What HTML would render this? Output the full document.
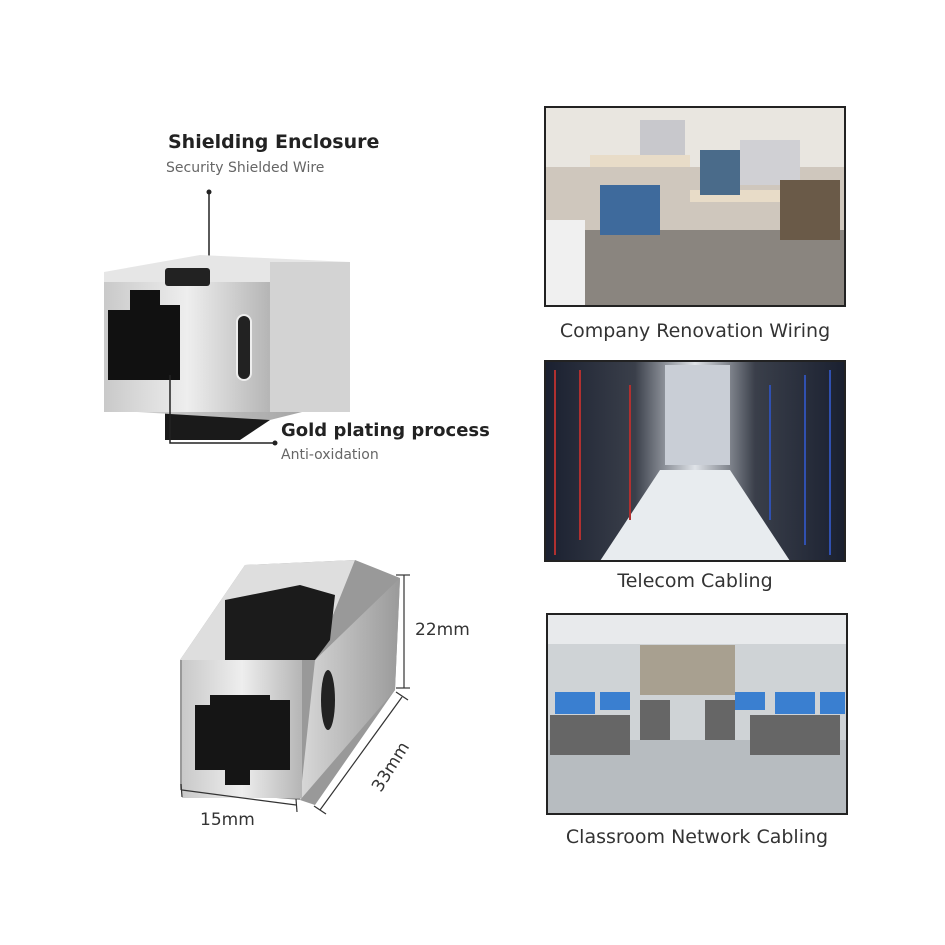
<!DOCTYPE html>
<html><head><meta charset="utf-8"><style>
body{margin:0;background:#fff;width:945px;height:945px;overflow:hidden;font-family:"DejaVu Sans","Liberation Sans",sans-serif;}
.t{position:absolute;white-space:nowrap;}
</style></head><body>
<svg width="945" height="945" style="position:absolute;left:0;top:0">
<defs>
<linearGradient id="m" x1="0" x2="1"><stop offset="0" stop-color="#c9c9c9"/><stop offset=".5" stop-color="#eeeeee"/><stop offset="1" stop-color="#b5b5b5"/></linearGradient>
<linearGradient id="m2" x1="0" x2="1"><stop offset="0" stop-color="#d8d8d8"/><stop offset="1" stop-color="#9a9a9a"/></linearGradient>
<linearGradient id="dc" x1="0" x2="1"><stop offset="0" stop-color="#1a2030"/><stop offset=".3" stop-color="#3a3f4a"/><stop offset=".5" stop-color="#dfe3e8"/><stop offset=".7" stop-color="#3a3f4a"/><stop offset="1" stop-color="#1a2030"/></linearGradient>
</defs>
<line x1="209" y1="192" x2="209" y2="262" stroke="#222" stroke-width="1.5"/><circle cx="209" cy="192" r="2.5" fill="#222"/>
<polygon points="165,395 270,395 270,420 240,440 165,440" fill="#1a1a1a"/>
<polygon points="104,280 270,280 350,262 350,400 270,420 104,410" fill="url(#m2)"/>
<polygon points="104,272 200,255 350,262 270,282 104,285" fill="#e6e6e6"/>
<rect x="104" y="282" width="166" height="130" fill="url(#m)"/>
<rect x="270" y="262" width="80" height="150" fill="#d3d3d3"/>
<rect x="165" y="268" width="45" height="18" rx="3" fill="#222"/>
<polygon points="108,310 130,310 130,290 160,290 160,305 180,305 180,380 108,380" fill="#111"/>
<rect x="237" y="315" width="14" height="65" rx="7" fill="#222" stroke="#eee" stroke-width="2"/>
<polyline points="170,375 170,443 275,443" fill="none" stroke="#222" stroke-width="1.5"/><circle cx="275" cy="443" r="2.5" fill="#222"/>
<polygon points="180,660 245,565 355,560 400,578 395,690 315,805 300,800 180,790" fill="#999"/>
<polygon points="180,660 245,565 355,560 315,660" fill="#dedede"/>
<polygon points="315,660 400,578 395,690 300,800" fill="url(#m2)"/>
<rect x="182" y="660" width="120" height="138" fill="url(#m)"/>
<polygon points="225,600 300,585 335,595 330,640 315,660 225,660" fill="#1b1b1b"/>
<polygon points="195,705 210,705 210,695 270,695 270,700 290,700 290,770 250,770 250,785 225,785 225,770 195,770" fill="#151515"/>
<ellipse cx="328" cy="700" rx="7" ry="30" fill="#222"/>
<g stroke="#333" stroke-width="1.2" fill="none">
<line x1="404" y1="575" x2="404" y2="688"/><line x1="396" y1="575" x2="410" y2="575"/><line x1="396" y1="688" x2="410" y2="688"/>
<line x1="402" y1="697" x2="320" y2="810"/><line x1="396" y1="692" x2="408" y2="700"/><line x1="314" y1="806" x2="326" y2="814"/>
<line x1="182" y1="790" x2="296" y2="805"/><line x1="181" y1="784" x2="182" y2="797"/><line x1="296" y1="799" x2="297" y2="812"/>
</g>
<rect x="545" y="107" width="300" height="199" fill="#cfc7bd"/>
<rect x="545" y="107" width="300" height="60" fill="#e9e6e0"/>
<rect x="545" y="230" width="300" height="76" fill="#8a857f"/>
<rect x="640" y="120" width="45" height="35" fill="#c8c8cc"/><rect x="740" y="140" width="60" height="45" fill="#d0d0d4"/>
<rect x="590" y="155" width="100" height="12" fill="#e8dcc8"/><rect x="690" y="190" width="100" height="12" fill="#e8dcc8"/>
<rect x="600" y="185" width="60" height="50" fill="#3e6a9c"/><rect x="700" y="150" width="40" height="45" fill="#4a6b8a"/>
<rect x="780" y="180" width="60" height="60" fill="#6a5a48"/><rect x="545" y="220" width="40" height="86" fill="#f0f0f0"/>
<rect x="545" y="107" width="300" height="199" fill="none" stroke="#222" stroke-width="2"/>
<rect x="545" y="361" width="300" height="200" fill="url(#dc)"/>
<polygon points="600,561 790,561 730,470 660,470" fill="#e8ecef"/>
<rect x="665" y="365" width="65" height="100" fill="#c9ced6"/>
<g stroke="#b03030" stroke-width="2"><line x1="555" y1="370" x2="555" y2="555"/><line x1="580" y1="370" x2="580" y2="540"/><line x1="630" y1="385" x2="630" y2="520"/></g>
<g stroke="#3050b0" stroke-width="2"><line x1="830" y1="370" x2="830" y2="555"/><line x1="805" y1="375" x2="805" y2="545"/><line x1="770" y1="385" x2="770" y2="520"/></g>
<rect x="545" y="361" width="300" height="200" fill="none" stroke="#222" stroke-width="2"/>
<rect x="547" y="614" width="300" height="200" fill="#cfd3d6"/>
<rect x="547" y="614" width="300" height="30" fill="#e8eaec"/>
<rect x="640" y="645" width="95" height="50" fill="#a8a090"/>
<polygon points="547,740 847,740 847,814 547,814" fill="#b7bcc0"/>
<g fill="#3a7fd0"><rect x="555" y="692" width="40" height="22"/><rect x="600" y="692" width="30" height="18"/><rect x="775" y="692" width="40" height="22"/><rect x="820" y="692" width="25" height="22"/><rect x="735" y="692" width="30" height="18"/></g>
<g fill="#666"><rect x="550" y="715" width="80" height="40"/><rect x="750" y="715" width="90" height="40"/><rect x="640" y="700" width="30" height="40"/><rect x="705" y="700" width="30" height="40"/></g>
<rect x="547" y="614" width="300" height="200" fill="none" stroke="#222" stroke-width="2"/>
</svg>
<div class="t" style="left:168px;top:131px;font-size:19px;font-weight:bold;color:#222">Shielding Enclosure</div>
<div class="t" style="left:166px;top:160px;font-size:14px;color:#666">Security Shielded Wire</div>
<div class="t" style="left:281px;top:420px;font-size:18px;font-weight:bold;color:#222">Gold plating process</div>
<div class="t" style="left:281px;top:447px;font-size:14px;color:#666">Anti-oxidation</div>
<div class="t" style="left:415px;top:620px;font-size:17px;color:#333">22mm</div>
<div class="t" style="left:200px;top:810px;font-size:17px;color:#333">15mm</div>
<div class="t" style="left:368px;top:785px;font-size:17px;color:#333;transform:rotate(-58deg);transform-origin:left top">33mm</div>
<div class="t" style="left:545px;top:320px;width:300px;text-align:center;font-size:19px;color:#333">Company Renovation Wiring</div>
<div class="t" style="left:545px;top:570px;width:300px;text-align:center;font-size:19px;color:#333">Telecom Cabling</div>
<div class="t" style="left:547px;top:826px;width:300px;text-align:center;font-size:19px;color:#333">Classroom Network Cabling</div>
</body></html>
